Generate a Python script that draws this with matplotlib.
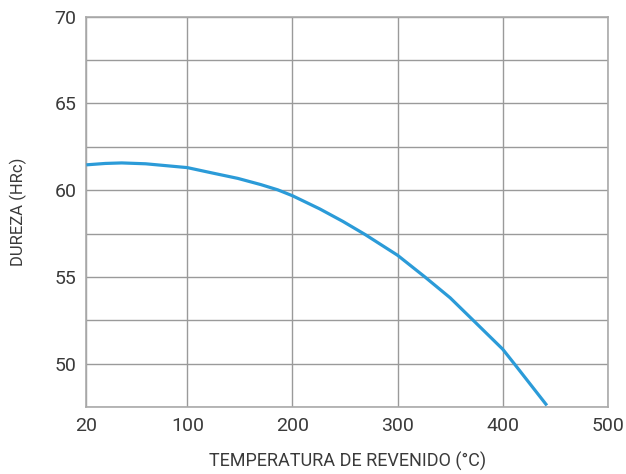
import matplotlib
matplotlib.use("Agg")
import matplotlib.pyplot as plt
import numpy as np

plt.rcParams['font.family'] = ['Roboto', 'DejaVu Sans']

# tempering temperature (C) vs hardness (HRc)
temp = np.array([20, 35, 48, 67, 100, 123, 148, 170, 186, 200, 226, 248, 269,
                 300, 326, 350, 372, 400, 411, 442])
hardness = np.array([61.46, 61.54, 61.57, 61.52, 61.3, 61.0, 60.68, 60.32, 60.02,
                     59.68, 58.92, 58.2, 57.45, 56.25, 55.0, 53.8, 52.5, 50.84,
                     50.0, 47.6])

x_ticks = [20, 100, 200, 300, 400, 500]
y_ticks = [50, 55, 60, 65, 70]
y_minor = [47.5, 52.5, 57.5, 62.5, 67.5]

# the first segment (20-100) is drawn nearly as wide as the others
def fwd(x):
    x = np.asarray(x, dtype=float)
    return np.where(x < 100, 100 - (100 - x) * 1.2, x)

def inv(y):
    y = np.asarray(y, dtype=float)
    return np.where(y < 100, 100 - (100 - y) / 1.2, y)

fig = plt.figure(figsize=(6.26, 4.74), dpi=100)
ax = fig.add_axes([0.138, 0.141, 0.833, 0.824])
ax.set_xscale("function", functions=(fwd, inv))

ax.plot(temp, hardness, color="#2b9bd8", lw=2.3, solid_capstyle="butt",
        solid_joinstyle="round", zorder=3)

ax.set_xlim(20, 500)
ax.set_ylim(47.6, 70)
ax.set_xticks(x_ticks)
ax.set_xticklabels([str(t) for t in x_ticks])
ax.set_yticks(y_ticks)
ax.set_yticks(y_minor, minor=True)

ax.grid(True, which="both", color="#9a9a9a", lw=1.0)
ax.tick_params(which="both", length=0, colors="#3a3a3a", labelsize=14, pad=7)
for s in ax.spines.values():
    s.set_color("#aaaaaa")
    s.set_linewidth(1.2)

ax.set_xlabel("TEMPERATURA DE REVENIDO (°C)", fontsize=13, color="#3a3a3a", labelpad=12)
ax.set_ylabel("DUREZA (HRc)", fontsize=12, color="#3a3a3a", labelpad=20)

fig.savefig("out.png", dpi=100)
